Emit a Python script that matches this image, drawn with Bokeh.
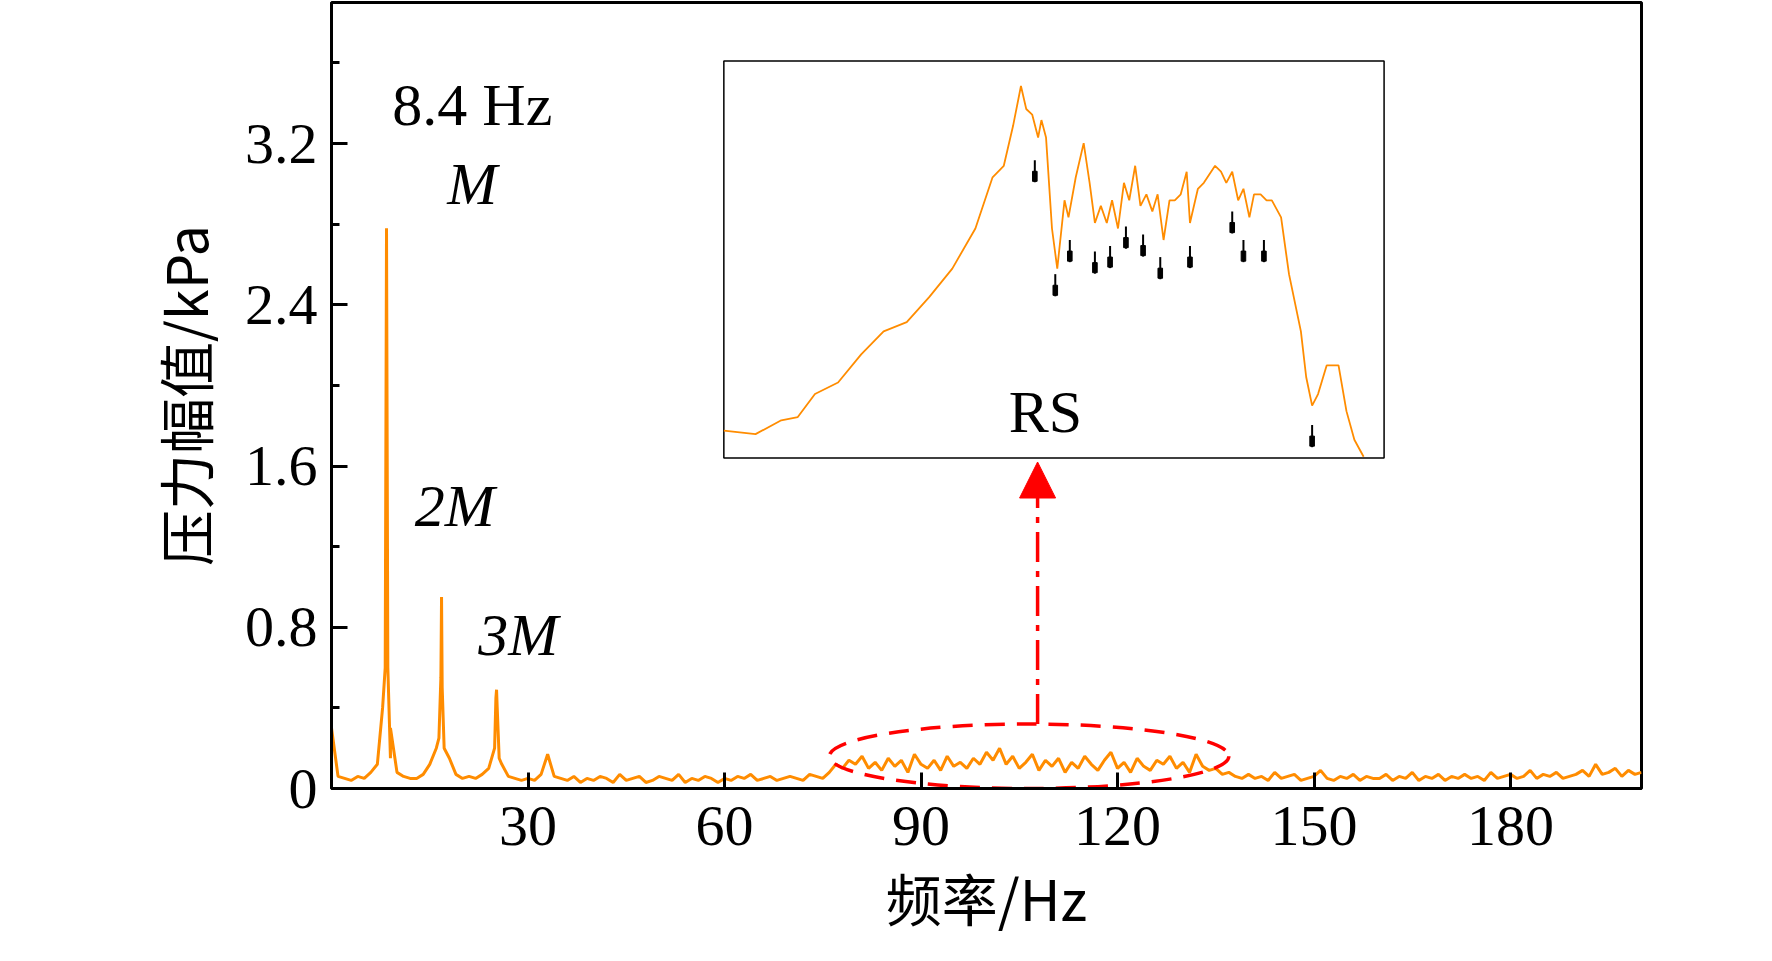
from bokeh.plotting import figure
from bokeh.models import Arrow, NormalHead, FixedTicker, Range1d, Label
from bokeh.embed import file_html
from bokeh.resources import INLINE

base_amp = [.30,.06,.05,.04,.06,.05,.08,.12,.20,.15,
 .08,.06,.05,.05,.07,.12,.20,.25,.15,.07,
 .05,.06,.05,.07,.10,.15,.12,.06,.05,.04,
 .05,.04,.07,.17,.06,.05,.04,.06,.03,.05,
 .04,.06,.05,.03,.07,.04,.05,.06,.03,.04,
 .06,.05,.04,.07,.03,.05,.04,.06,.05,.03,
 .05,.04,.06,.05,.07,.04,.05,.06,.04,.05,
 .06,.05,.04,.07,.06,.05,.08,.12,.10,.14,
 .12,.16,.10,.13,.09,.15,.11,.14,.08,.17,
 .12,.10,.14,.09,.16,.11,.13,.10,.15,.12,
 .18,.14,.20,.12,.16,.10,.13,.17,.09,.14,
 .11,.15,.08,.13,.10,.16,.12,.09,.14,.18,
 .10,.13,.08,.15,.11,.09,.14,.12,.16,.10,
 .13,.08,.17,.11,.09,.10,.07,.08,.06,.05,
 .07,.05,.06,.04,.08,.05,.06,.07,.04,.05,
 .06,.09,.05,.04,.06,.05,.07,.04,.06,.05,
 .05,.07,.04,.06,.05,.08,.04,.06,.05,.07,
 .04,.06,.05,.07,.05,.06,.04,.08,.05,.06,
 .07,.05,.06,.09,.05,.07,.06,.08,.05,.06,
 .07,.09,.06,.12,.07,.08,.10,.06,.09,.07,
 .08]
base_freq = list(range(0, 201))
peak_freq = [7.8, 8.2, 8.4, 8.6, 9.0, 16.4, 16.7, 16.8, 16.9, 17.2, 24.9, 25.1, 25.2, 25.3, 25.6]
peak_amp = [0.40, 0.60, 2.78, 0.60, 0.30, 0.25, 0.55, 0.95, 0.50, 0.20, 0.20, 0.45, 0.49, 0.40, 0.15]

inset_x = [0,4.8,8.7,11.2,13.8,17.3,20.8,24.2,27.7,31.1,34.6,38.1,40.7,42.4,43.8,45.0,45.8,46.7,47.6,48.1,48.8,49.7,50.5,51.6,52.2,53.3,54.5,55.4,56.2,57.1,58.0,58.8,59.7,60.6,61.4,62.3,63.1,64.0,64.9,65.7,66.6,67.5,68.3,69.2,70.1,70.6,71.8,72.7,74.4,75.3,76.1,77.0,77.9,78.7,79.6,80.3,81.3,82.2,83.0,84.4,85.6,87.4,88.2,89.1,90.0,91.3,93.1,94.3,95.5,96.9]
inset_y = [6.9,6.0,9.5,10.3,16.1,19.0,26.1,31.9,34.2,40.5,47.7,57.8,70.7,73.6,83.6,93.7,87.9,86.5,80.7,85.1,80.7,57.8,47.7,64.9,60.6,70.7,79.3,69.3,59.2,63.5,59.2,64.9,57.8,69.3,64.9,73.6,63.5,66.4,62.1,66.4,54.9,64.9,64.9,66.4,72.1,59.2,67.8,69.3,73.6,72.1,69.3,72.1,64.9,67.8,60.6,66.4,66.4,64.9,64.9,60.6,46.3,31.9,20.4,13.2,16.1,23.3,23.3,11.8,4.6,0.3]
mark_x = [47.1,50.2,52.4,56.2,58.5,60.9,63.5,66.1,70.6,77.0,78.7,81.8,89.1]
mark_y = [75.0,46.3,54.9,52.0,53.4,58.3,56.3,50.6,53.4,62.1,54.9,54.9,8.3]

pts = sorted([(f, a) for f, a in zip(base_freq, base_amp) if f not in (8, 17, 25)] + list(zip(peak_freq, peak_amp)))
freq = [q[0] for q in pts]
amp = [q[1] for q in pts]

ORANGE = "#ff8c00"
SERIF = "Liberation Serif"

p = figure(frame_width=1310, frame_height=786, min_border_left=331, min_border_right=100,
           min_border_top=2, min_border_bottom=157, output_backend="svg", toolbar_location=None,
           x_range=Range1d(0, 200), y_range=Range1d(0, 3.9))
p.grid.visible = False
p.outline_line_color = "black"
p.outline_line_width = 3
p.line(freq, amp, color=ORANGE, line_width=3)

# inset box
ix0, ix1, iy0, iy1 = 59.9, 160.7, 1.64, 3.61
p.quad(left=ix0, right=ix1, bottom=iy0, top=iy1, fill_color="white", line_color="black", line_width=1.5)
sx = [ix0 + v / 100 * (ix1 - ix0) for v in inset_x]
sy = [iy0 + v / 100 * (iy1 - iy0) for v in inset_y]
p.line(sx, sy, color=ORANGE, line_width=1.8)
mx = [ix0 + v / 100 * (ix1 - ix0) for v in mark_x]
my = [iy0 + v / 100 * (iy1 - iy0) for v in mark_y]
p.segment(x0=mx, y0=my, x1=mx, y1=[v - 0.11 for v in my], color="black", line_width=2)
p.rect(x=mx, y=[v - 0.08 for v in my], width=0.7, height=0.05, color="black")

p.ellipse(x=106.5, y=0.16, width=61, height=0.32, fill_color=None, line_color="red",
          line_width=3.5, line_dash="20 12")
p.add_layout(Arrow(end=NormalHead(size=36, fill_color="red", line_color="red"),
                   x_start=107.8, y_start=0.32, x_end=107.8, y_end=1.62,
                   line_color="red", line_width=3.5, line_dash="30 9 6 9"))

for txt, x, y, st in [("8.4 Hz", 21.5, 3.39, "normal"), ("M", 21.5, 3.0, "italic"),
                      ("2M", 18.8, 1.40, "italic"), ("3M", 28.5, 0.76, "italic"), ("RS", 109, 1.87, "normal")]:
    p.add_layout(Label(x=x, y=y, text=txt, text_font=SERIF, text_font_size="60px", text_font_style=st,
                       text_align="center", text_baseline="middle", text_color="black"))

for ax in (p.xaxis[0], p.yaxis[0]):
    ax.axis_line_width = 3
    ax.major_tick_in = 16
    ax.major_tick_out = 0
    ax.minor_tick_in = 8
    ax.minor_tick_out = 0
    ax.major_tick_line_width = 3
    ax.minor_tick_line_width = 3
    ax.major_label_text_font = SERIF
    ax.major_label_text_font_size = "58px"
    ax.major_label_text_color = "black"
    ax.axis_label_text_font = "Noto Sans CJK SC"
    ax.axis_label_text_font_size = "56px"
    ax.axis_label_text_font_style = "normal"
    ax.axis_label_text_color = "black"
p.xaxis.ticker = FixedTicker(ticks=[30, 60, 90, 120, 150, 180])
p.yaxis.ticker = FixedTicker(ticks=[0, 0.8, 1.6, 2.4, 3.2], minor_ticks=[0.4, 1.2, 2.0, 2.8, 3.6])
p.yaxis.major_label_overrides = {0: "0"}
p.xaxis.axis_label = "频率/Hz"
p.yaxis.axis_label = "压力幅值/kPa"
p.xaxis.major_label_standoff = 18
p.yaxis.major_label_standoff = 14
p.xaxis.axis_label_standoff = 8
p.yaxis.axis_label_standoff = 18

open("out.html", "w").write(file_html(p, INLINE))
